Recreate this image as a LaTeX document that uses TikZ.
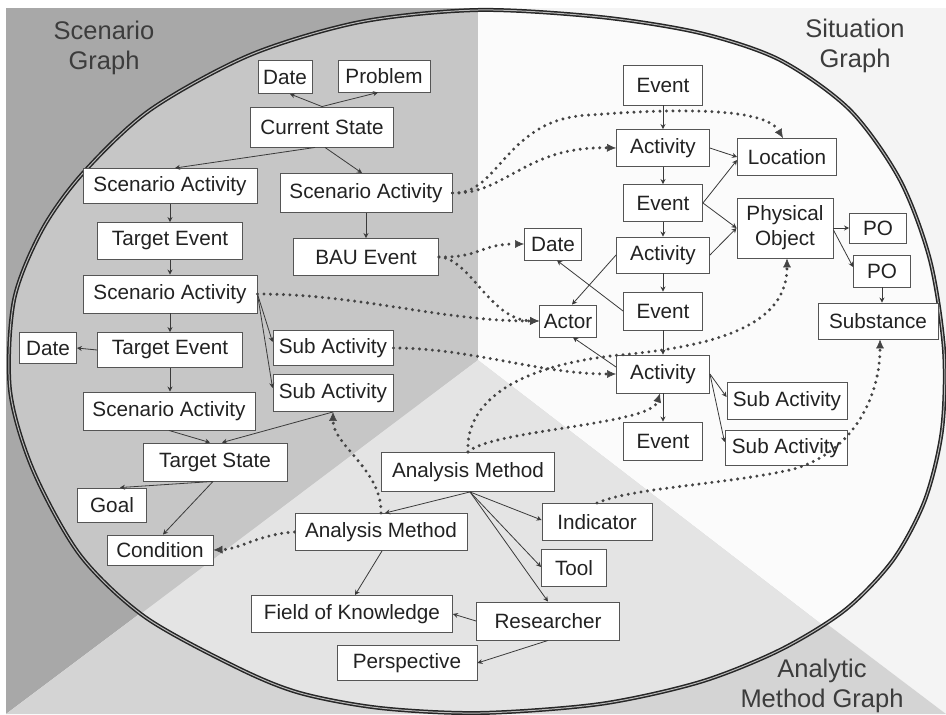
\documentclass[tikz,border=0pt]{standalone}
\usepackage{fontspec}
\setmainfont{Liberation Sans}
\usetikzlibrary{arrows.meta,calc}
\definecolor{scenout}{HTML}{A8A8A8}
\definecolor{scenin}{HTML}{C6C6C6}
\definecolor{sitout}{HTML}{F4F4F4}
\definecolor{sitin}{HTML}{FBFBFB}
\definecolor{anaout}{HTML}{D4D4D4}
\definecolor{anain}{HTML}{E4E4E4}
\definecolor{boxline}{HTML}{555555}
\definecolor{txt}{HTML}{222222}
\definecolor{conn}{HTML}{3A3A3A}
\definecolor{dotc}{HTML}{444444}
\definecolor{lbl}{HTML}{3C3C3C}
\begin{document}
\begin{tikzpicture}[x=1pt,y=-1pt,
  box/.style={draw=boxline, fill=white, line width=0.9pt, inner sep=0pt, text=txt,
    font=\fontsize{20.7}{25}\selectfont, align=center},
  sarr/.style={draw=conn, line width=0.8pt, -{Stealth[length=5pt,width=5pt]}},
  darr/.style={draw=dotc, line width=3.3pt, line cap=round, dash pattern=on 0pt off 6.5pt,
    -{Latex[length=9pt,width=8pt,line width=0.5pt]}},
  grp/.style={text=lbl, font=\fontsize{25.5}{30}\selectfont, align=center}
]
\useasboundingbox (0,0) rectangle (946,715);
% outer sectors
\fill[scenout] (6,8) -- (478,8) -- (478,360) -- (6,714) -- cycle;
\fill[sitout] (478,8) -- (946,8) -- (946,714) -- (478,360) -- cycle;
\fill[anaout] (6,714) -- (478,360) -- (946,714) -- cycle;
% inner sectors
\begin{scope}
\clip plot[smooth cycle] coordinates {(478,10) (600,17) (700,33) (780,60) (850,110) (900,180) (930,260) (944,350) (942,430) (925,500) (893,560) (845,610) (780,650) (700,682) (600,704) (480,713) (380,708) (300,693) (238,668) (145,617) (80,555) (33,470) (10,390) (14,300) (42,230) (83,173) (150,110) (250,55) (360,22)};
\fill[scenin] (0,0) -- (478,0) -- (478,360) -- (0,720) -- cycle;
\fill[sitin] (478,0) -- (946,0) -- (946,720) -- (478,360) -- cycle;
\fill[anain] (0,720) -- (478,360) -- (946,720) -- cycle;
\end{scope}
\draw[draw=black!85, line width=1.5pt, double=gray!55, double distance=1pt]
  plot[smooth cycle] coordinates {(478,10) (600,17) (700,33) (780,60) (850,110) (900,180) (930,260) (944,350) (942,430) (925,500) (893,560) (845,610) (780,650) (700,682) (600,704) (480,713) (380,708) (300,693) (238,668) (145,617) (80,555) (33,470) (10,390) (14,300) (42,230) (83,173) (150,110) (250,55) (360,22)};

% group labels
\node[grp] (lscen) at (104,48) {Scenario\\Graph};
\node[grp] (lsit) at (855,46) {Situation\\Graph};
\node[grp] (lana) at (822,686) {Analytic\\Method Graph};

% scenario nodes
\node[box, minimum width=54, minimum height=33] (sDate) at (285,77) {Date};
\node[box, minimum width=92, minimum height=32] (sProb) at (384,76) {Problem};
\node[box, minimum width=143, minimum height=40] (cur) at (322,127) {Current State};
\node[box, minimum width=174, minimum height=35] (sa1) at (170,186) {Scenario Activity};
\node[box, minimum width=172, minimum height=39] (sa2) at (366,193) {Scenario Activity};
\node[box, minimum width=145, minimum height=37] (te1) at (170,241) {Target Event};
\node[box, minimum width=145, minimum height=37] (bau) at (366,257) {BAU Event};
\node[box, minimum width=174, minimum height=38] (sa3) at (170,294) {Scenario Activity};
\node[box, minimum width=57, minimum height=31] (dateL) at (48,348) {Date};
\node[box, minimum width=145, minimum height=35] (te2) at (170,350) {Target Event};
\node[box, minimum width=120, minimum height=35] (sub1) at (333,348) {Sub Activity};
\node[box, minimum width=120, minimum height=37] (sub2) at (333,393) {Sub Activity};
\node[box, minimum width=172, minimum height=38] (sa4) at (169,411) {Scenario Activity};
\node[box, minimum width=144, minimum height=38] (tstate) at (215,462) {Target State};
\node[box, minimum width=69, minimum height=34] (goal) at (112,505) {Goal};
\node[box, minimum width=106, minimum height=30] (cond) at (160,550) {Condition};

% analytic nodes
\node[box, minimum width=173, minimum height=39] (am1) at (468,472) {Analysis Method};
\node[box, minimum width=172, minimum height=37] (am2) at (381,532) {Analysis Method};
\node[box, minimum width=110, minimum height=37] (ind) at (597,522) {Indicator};
\node[box, minimum width=65, minimum height=37] (tool) at (574,568) {Tool};
\node[box, minimum width=143, minimum height=38] (res) at (548,621) {Researcher};
\node[box, minimum width=201, minimum height=37] (fok) at (352,614) {Field of Knowledge};
\node[box, minimum width=140, minimum height=35] (persp) at (407,663) {Perspective};

% situation nodes
\node[box, minimum width=79, minimum height=40] (ev1) at (663,85) {Event};
\node[box, minimum width=93, minimum height=37] (act1) at (663,148) {Activity};
\node[box, minimum width=99, minimum height=37] (loc) at (787,157) {Location};
\node[box, minimum width=79, minimum height=37] (ev2) at (663,203) {Event};
\node[box, minimum width=96, minimum height=60] (phys) at (785,228) {Physical\\Object};
\node[box, minimum width=57, minimum height=30] (po1) at (878,228) {PO};
\node[box, minimum width=57, minimum height=32] (po2) at (882,271) {PO};
\node[box, minimum width=120, minimum height=36] (subst) at (878,321) {Substance};
\node[box, minimum width=57, minimum height=32] (dateR) at (553,244) {Date};
\node[box, minimum width=93, minimum height=36] (act2) at (663,255) {Activity};
\node[box, minimum width=79, minimum height=38] (ev3) at (663,311) {Event};
\node[box, minimum width=57, minimum height=32] (actor) at (568,321) {Actor};
\node[box, minimum width=93, minimum height=38] (act3) at (663,374) {Activity};
\node[box, minimum width=120, minimum height=37] (subR1) at (787,401) {Sub Activity};
\node[box, minimum width=79, minimum height=38] (ev4) at (663,441) {Event};
\node[box, minimum width=122, minimum height=35] (subR2) at (786,448) {Sub Activity};

% solid connectors: scenario
\draw[sarr] (cur.north) -- ($(sDate.south)+(5,0)$);
\draw[sarr] (cur.north) -- ($(sProb.south)+(-6,0)$);
\draw[sarr] ($(cur.south)+(-7,0)$) -- ($(sa1.north)+(5,0)$);
\draw[sarr] ($(cur.south)+(3,0)$) -- ($(sa2.north)+(-4,0)$);
\draw[sarr] (sa1.south) -- (te1.north);
\draw[sarr] (te1.south) -- (sa3.north);
\draw[sarr] (sa3.south) -- (te2.north);
\draw[sarr] (te2.south) -- (te2.south |- sa4.north);
\draw[sarr] (te2.west) -- (dateL.east);
\draw[sarr] (sa2.south) -- (bau.north);
\draw[sarr] (sa3.east) -- ($(sub1.west)+(0,-6)$);
\draw[sarr] (sa3.east) -- ($(sub2.west)+(0,-5)$);
\draw[sarr] (sa4.south) -- ($(tstate.north)+(-5,0)$);
\draw[sarr] (sub2.south) -- ($(tstate.north)+(7,0)$);
\draw[sarr] ($(tstate.south)+(-2,0)$) -- ($(goal.north)+(8,0)$);
\draw[sarr] ($(tstate.south)+(-2,0)$) -- ($(cond.north)+(3,0)$);
% solid connectors: analytic
\draw[sarr] ($(am1.south)+(2,0)$) -- ($(am2.north)+(4,0)$);
\draw[sarr] ($(am1.south)+(2,0)$) -- ($(ind.west)+(0,-2)$);
\draw[sarr] ($(am1.south)+(2,0)$) -- ($(tool.west)+(0,-1)$);
\draw[sarr] ($(am1.south)+(2,0)$) -- (res.north);
\draw[sarr] ($(am2.south)+(1,0)$) -- ($(fok.north)+(3,0)$);
\draw[sarr] (res.west) -- (fok.east);
\draw[sarr] (res.south) -- (persp.east);
% solid connectors: situation
\draw[sarr] (ev1.south) -- (act1.north);
\draw[sarr] (act1.south) -- (ev2.north);
\draw[sarr] (ev2.south) -- (act2.north);
\draw[sarr] (act2.south) -- (ev3.north);
\draw[sarr] (ev3.south) -- (act3.north);
\draw[sarr] (act3.south) -- (ev4.north);
\draw[sarr] (act1.east) -- (loc.west);
\draw[sarr] (ev2.east) -- ($(loc.west)+(0,3)$);
\draw[sarr] (ev2.east) -- (phys.west);
\draw[sarr] (act2.east) -- (phys.west);
\draw[sarr] (phys.east) -- (po1.west);
\draw[sarr] ($(phys.east)+(0,2)$) -- ($(po2.west)+(0,-4)$);
\draw[sarr] (po2.south) -- (po2.south |- subst.north);
\draw[sarr] (act2.west) -- ($(actor.north)+(4,0)$);
\draw[sarr] (ev3.west) -- ($(dateR.south)+(4,0)$);
\draw[sarr] ($(act3.west)+(0,-7)$) -- ($(actor.south)+(5,0)$);
\draw[sarr] (act3.east) -- ($(subR1.west)+(0,-4)$);
\draw[sarr] (act3.east) -- ($(subR2.west)+(0,-6)$);

% dotted cross-graph connectors
\coordinate (d1m) at (590,115);
\draw[darr] (sa2.east) .. controls (500,195) and (505,118) .. (d1m)
  .. controls (680,108) and (765,108) .. ($(loc.north)+(-4,0)$);
\draw[darr] (sa2.east) .. controls (505,195) and (525,146) .. (act1.west);
\draw[darr] (bau.east) .. controls (480,258) and (480,244) .. (dateR.west);
\draw[darr] (bau.east) .. controls (470,258) and (490,320) .. (actor.west);
\draw[darr] (sa3.east) .. controls (360,294) and (440,321) .. (actor.west);
\draw[darr] (sub1.east) .. controls (470,348) and (540,374) .. (act3.west);
\coordinate (d7m) at (620,355);
\draw[darr] (am1.north) .. controls (465,400) and (520,365) .. (d7m)
  .. controls (730,345) and (787,320) .. ($(phys.south)+(2,0)$);
\draw[darr] (am1.north) .. controls (490,430) and (650,425) .. ($(act3.south)+(-3,0)$);
\draw[darr] (am2.north) .. controls (382,470) and (333,445) .. (sub2.south);
\draw[darr] (am2.west) .. controls (260,534) and (240,549) .. (cond.east);
\coordinate (d11m) at (790,470);
\draw[darr] (ind.north) .. controls (630,488) and (720,485) .. (d11m)
  .. controls (850,455) and (880,400) .. ($(subst.south)+(2,0)$);
\end{tikzpicture}
\end{document}
